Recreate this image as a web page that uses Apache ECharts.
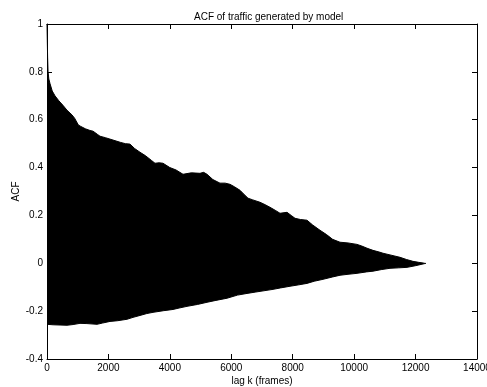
<!DOCTYPE html>
<html>
<head>
<meta charset="utf-8">
<script src="https://cdn.jsdelivr.net/npm/echarts@6/dist/echarts.min.js"></script>
<style>html,body{margin:0;padding:0;background:#fff}#c{width:487px;height:387px}</style>
</head>
<body>
<div id="c"></div>
<script>
// Upper envelope of the ACF (lag, value)
const upperLags = [0,10,20,35,60,100,170,260,380,520,650,814,900,960,1020,1100,1250,1400,1500,1563,1650,1726,1900,2149,2400,2550,2702,2850,3028,3200,3400,3516,3650,3777,4000,4200,4428,4700,4981,5100,5209,5400,5632,5800,5958,6100,6284,6400,6544,6700,6935,7100,7260,7450,7586,7814,7950,8075,8250,8465,8650,8888,9100,9300,9540,9800,10093,10250,10419,10614,10842,10940,11200,11493,11700,11916,12100,12300];
const upperVals = [1.0,0.93,0.86,0.80,0.77,0.75,0.72,0.70,0.68,0.66,0.64,0.62,0.606,0.598,0.578,0.572,0.562,0.555,0.552,0.55,0.538,0.531,0.525,0.515,0.505,0.50,0.498,0.48,0.464,0.45,0.43,0.418,0.42,0.418,0.40,0.39,0.372,0.378,0.376,0.38,0.372,0.35,0.335,0.335,0.330,0.32,0.305,0.29,0.272,0.265,0.255,0.245,0.234,0.22,0.209,0.213,0.20,0.188,0.183,0.180,0.16,0.138,0.12,0.10,0.088,0.085,0.079,0.072,0.063,0.054,0.046,0.042,0.034,0.025,0.016,0.008,0.004,0.0];
// Lower envelope of the ACF (lag, value)
const lowerLags = [0,200,651,850,1074,1300,1628,1800,2051,2300,2605,2800,3028,3250,3451,3800,4102,4300,4558,4900,5209,5500,5861,6200,6512,6800,7358,7600,7912,8200,8465,8700,8986,9300,9540,9800,10093,10400,10614,10900,11167,11450,11721,12000,12340];
const lowerVals = [-0.255,-0.257,-0.259,-0.256,-0.251,-0.252,-0.255,-0.250,-0.243,-0.240,-0.234,-0.226,-0.218,-0.21,-0.205,-0.198,-0.193,-0.187,-0.180,-0.172,-0.163,-0.155,-0.146,-0.133,-0.126,-0.12,-0.109,-0.103,-0.096,-0.09,-0.084,-0.075,-0.067,-0.057,-0.050,-0.046,-0.042,-0.036,-0.033,-0.026,-0.021,-0.019,-0.017,-0.01,0.0];

const titleText = 'ACF of traffic generated by model';
const xName = 'lag k (frames)';
const yName = 'ACF';

const font = 'Liberation Sans';
const chart = echarts.init(document.getElementById('c'), null, {renderer: 'canvas'});
const axisCommon = {
  z: 5,
  nameMoveOverlap: false,
  axisLine: {show: true, onZero: false, lineStyle: {color: '#000', width: 1}},
  axisTick: {show: true, inside: true, length: 5, lineStyle: {color: '#000'}},
  splitLine: {show: false}
};
chart.setOption({
  animation: false,
  backgroundColor: '#fff',
  title: {text: titleText, left: 189, top: 7, textStyle: {fontFamily: font, fontSize: 10, fontWeight: 'normal', color: '#000'}},
  grid: {left: 47, right: 10, top: 24, bottom: 28, containLabel: false, outerBoundsMode: 'none'},
  xAxis: [
    Object.assign({type: 'value', position: 'bottom', min: 0, max: 14000, interval: 2000,
      name: xName, nameLocation: 'middle', nameGap: 17,
      nameTextStyle: {fontFamily: font, fontSize: 10, color: '#000'},
      axisLabel: {fontFamily: font, fontSize: 10, color: '#000', margin: 4, formatter: v => String(v)}}, axisCommon),
    Object.assign({type: 'value', position: 'top', min: 0, max: 14000, interval: 2000,
      axisLabel: {show: false}}, axisCommon)
  ],
  yAxis: [
    Object.assign({type: 'value', position: 'left', min: -0.4, max: 1, interval: 0.2,
      name: yName, nameLocation: 'middle', nameGap: 26,
      nameTextStyle: {fontFamily: font, fontSize: 10, color: '#000'},
      axisLabel: {fontFamily: font, fontSize: 10, color: '#000', margin: 4,
        formatter: v => String(Math.round(v * 10) / 10)}}, axisCommon),
    Object.assign({type: 'value', position: 'right', min: -0.4, max: 1, interval: 0.2,
      axisLabel: {show: false}}, axisCommon)
  ],
  series: [
    {type: 'line', xAxisIndex: 0, yAxisIndex: 0, symbol: 'none', z: 2,
      data: upperLags.map((l, i) => [l, upperVals[i]]),
      lineStyle: {color: '#000', width: 1}, areaStyle: {color: '#000', opacity: 1, origin: 'start'}},
    {type: 'line', xAxisIndex: 0, yAxisIndex: 0, symbol: 'none', z: 3,
      data: lowerLags.map((l, i) => [l, lowerVals[i]]),
      lineStyle: {color: '#000', width: 1}, areaStyle: {color: '#fff', opacity: 1, origin: 'start'}}
  ]
});
</script>
</body>
</html>
